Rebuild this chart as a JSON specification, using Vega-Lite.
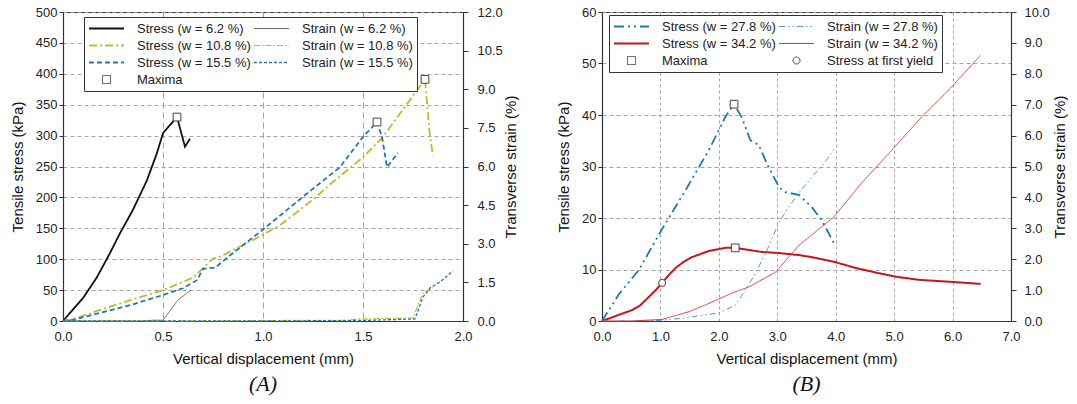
{
  "$schema": "https://vega.github.io/schema/vega-lite/v6.json",
  "background": "white",
  "padding": {"left": 9, "top": 5, "right": 0, "bottom": 0},
  "spacing": 37,
  "config": {
    "font": "Liberation Sans",
    "view": {"stroke": "#333", "strokeWidth": 1},
    "axis": {"labelFont": "Liberation Sans", "labelFontSize": 13, "labelColor": "#222", "titleFont": "Liberation Sans", "titleFontSize": 15, "titleFontWeight": "normal", "titleColor": "#111", "domainColor": "#333", "domainWidth": 1.2, "tickColor": "#333", "gridColor": "#9a9a9a", "gridWidth": 0.9, "labelFlush": false},
    "legend": {"labelFont": "Liberation Sans", "labelFontSize": 13, "labelColor": "#222"}
  },
  "datasets": {
    "A": [
      {"s": "Stress (w = 6.2 %)", "x": 0, "v": 0}, {"s": "Stress (w = 6.2 %)", "x": 0.035, "v": 13}, {"s": "Stress (w = 6.2 %)", "x": 0.1, "v": 37}, {"s": "Stress (w = 6.2 %)", "x": 0.17, "v": 71}, {"s": "Stress (w = 6.2 %)", "x": 0.235, "v": 110}, {"s": "Stress (w = 6.2 %)", "x": 0.285, "v": 142}, {"s": "Stress (w = 6.2 %)", "x": 0.35, "v": 180}, {"s": "Stress (w = 6.2 %)", "x": 0.42, "v": 228}, {"s": "Stress (w = 6.2 %)", "x": 0.47, "v": 272}, {"s": "Stress (w = 6.2 %)", "x": 0.5, "v": 304}, {"s": "Stress (w = 6.2 %)", "x": 0.57, "v": 330}, {"s": "Stress (w = 6.2 %)", "x": 0.61, "v": 282}, {"s": "Stress (w = 6.2 %)", "x": 0.635, "v": 295},
      {"s": "Strain (w = 6.2 %)", "x": 0, "v": 0}, {"s": "Strain (w = 6.2 %)", "x": 0.4, "v": 0.0}, {"s": "Strain (w = 6.2 %)", "x": 0.45, "v": 0.03}, {"s": "Strain (w = 6.2 %)", "x": 0.5, "v": 0.03}, {"s": "Strain (w = 6.2 %)", "x": 0.55, "v": 0.55}, {"s": "Strain (w = 6.2 %)", "x": 0.575, "v": 0.82}, {"s": "Strain (w = 6.2 %)", "x": 0.64, "v": 1.2},
      {"s": "Stress (w = 10.8 %)", "x": 0, "v": 0}, {"s": "Stress (w = 10.8 %)", "x": 0.05, "v": 3}, {"s": "Stress (w = 10.8 %)", "x": 0.185, "v": 18}, {"s": "Stress (w = 10.8 %)", "x": 0.35, "v": 35}, {"s": "Stress (w = 10.8 %)", "x": 0.5, "v": 50}, {"s": "Stress (w = 10.8 %)", "x": 0.65, "v": 70}, {"s": "Stress (w = 10.8 %)", "x": 0.75, "v": 101}, {"s": "Stress (w = 10.8 %)", "x": 0.785, "v": 104}, {"s": "Stress (w = 10.8 %)", "x": 0.87, "v": 118}, {"s": "Stress (w = 10.8 %)", "x": 0.95, "v": 131}, {"s": "Stress (w = 10.8 %)", "x": 1.04, "v": 147}, {"s": "Stress (w = 10.8 %)", "x": 1.085, "v": 155}, {"s": "Stress (w = 10.8 %)", "x": 1.26, "v": 199}, {"s": "Stress (w = 10.8 %)", "x": 1.32, "v": 217}, {"s": "Stress (w = 10.8 %)", "x": 1.5, "v": 265}, {"s": "Stress (w = 10.8 %)", "x": 1.595, "v": 296}, {"s": "Stress (w = 10.8 %)", "x": 1.81, "v": 391}, {"s": "Stress (w = 10.8 %)", "x": 1.835, "v": 298}, {"s": "Stress (w = 10.8 %)", "x": 1.85, "v": 268},
      {"s": "Strain (w = 10.8 %)", "x": 0, "v": 0}, {"s": "Strain (w = 10.8 %)", "x": 0.5, "v": 0.0}, {"s": "Strain (w = 10.8 %)", "x": 1.0, "v": 0.02}, {"s": "Strain (w = 10.8 %)", "x": 1.4, "v": 0.03}, {"s": "Strain (w = 10.8 %)", "x": 1.5, "v": 0.08}, {"s": "Strain (w = 10.8 %)", "x": 1.65, "v": 0.1}, {"s": "Strain (w = 10.8 %)", "x": 1.75, "v": 0.12}, {"s": "Strain (w = 10.8 %)", "x": 1.8, "v": 1.08}, {"s": "Strain (w = 10.8 %)", "x": 1.85, "v": 1.3},
      {"s": "Stress (w = 15.5 %)", "x": 0, "v": 0}, {"s": "Stress (w = 15.5 %)", "x": 0.05, "v": 2}, {"s": "Stress (w = 15.5 %)", "x": 0.185, "v": 13}, {"s": "Stress (w = 15.5 %)", "x": 0.35, "v": 27}, {"s": "Stress (w = 15.5 %)", "x": 0.5, "v": 42}, {"s": "Stress (w = 15.5 %)", "x": 0.6, "v": 53}, {"s": "Stress (w = 15.5 %)", "x": 0.67, "v": 66}, {"s": "Stress (w = 15.5 %)", "x": 0.7, "v": 84}, {"s": "Stress (w = 15.5 %)", "x": 0.73, "v": 86}, {"s": "Stress (w = 15.5 %)", "x": 0.76, "v": 86}, {"s": "Stress (w = 15.5 %)", "x": 0.85, "v": 110}, {"s": "Stress (w = 15.5 %)", "x": 1.0, "v": 148}, {"s": "Stress (w = 15.5 %)", "x": 1.2, "v": 201}, {"s": "Stress (w = 15.5 %)", "x": 1.385, "v": 249}, {"s": "Stress (w = 15.5 %)", "x": 1.5, "v": 298}, {"s": "Stress (w = 15.5 %)", "x": 1.57, "v": 322}, {"s": "Stress (w = 15.5 %)", "x": 1.595, "v": 298}, {"s": "Stress (w = 15.5 %)", "x": 1.62, "v": 249}, {"s": "Stress (w = 15.5 %)", "x": 1.675, "v": 272},
      {"s": "Strain (w = 15.5 %)", "x": 0, "v": 0}, {"s": "Strain (w = 15.5 %)", "x": 0.5, "v": 0.0}, {"s": "Strain (w = 15.5 %)", "x": 1.0, "v": 0.0}, {"s": "Strain (w = 15.5 %)", "x": 1.5, "v": 0.02}, {"s": "Strain (w = 15.5 %)", "x": 1.76, "v": 0.08}, {"s": "Strain (w = 15.5 %)", "x": 1.8, "v": 0.93}, {"s": "Strain (w = 15.5 %)", "x": 1.835, "v": 1.28}, {"s": "Strain (w = 15.5 %)", "x": 1.885, "v": 1.52}, {"s": "Strain (w = 15.5 %)", "x": 1.95, "v": 1.94},
      {"s": "max", "x": 0.57, "v": 330}, {"s": "max", "x": 1.57, "v": 322}, {"s": "max", "x": 1.81, "v": 391}
    ],
    "B": [
      {"s": "Stress (w = 27.8 %)", "x": 0, "v": 0}, {"s": "Stress (w = 27.8 %)", "x": 0.29, "v": 5.2}, {"s": "Stress (w = 27.8 %)", "x": 0.63, "v": 9.9}, {"s": "Stress (w = 27.8 %)", "x": 1.0, "v": 17.3}, {"s": "Stress (w = 27.8 %)", "x": 1.43, "v": 25.4}, {"s": "Stress (w = 27.8 %)", "x": 1.83, "v": 33.2}, {"s": "Stress (w = 27.8 %)", "x": 2.11, "v": 39.6}, {"s": "Stress (w = 27.8 %)", "x": 2.26, "v": 42.1}, {"s": "Stress (w = 27.8 %)", "x": 2.39, "v": 39.6}, {"s": "Stress (w = 27.8 %)", "x": 2.54, "v": 35.1}, {"s": "Stress (w = 27.8 %)", "x": 2.68, "v": 34.2}, {"s": "Stress (w = 27.8 %)", "x": 2.85, "v": 29.9}, {"s": "Stress (w = 27.8 %)", "x": 3.03, "v": 26}, {"s": "Stress (w = 27.8 %)", "x": 3.14, "v": 25}, {"s": "Stress (w = 27.8 %)", "x": 3.37, "v": 24.5}, {"s": "Stress (w = 27.8 %)", "x": 3.59, "v": 22.1}, {"s": "Stress (w = 27.8 %)", "x": 3.76, "v": 19.6}, {"s": "Stress (w = 27.8 %)", "x": 3.97, "v": 15.1},
      {"s": "Strain (w = 27.8 %)", "x": 0, "v": 0}, {"s": "Strain (w = 27.8 %)", "x": 0.5, "v": 0.0}, {"s": "Strain (w = 27.8 %)", "x": 1.0, "v": 0.02}, {"s": "Strain (w = 27.8 %)", "x": 1.32, "v": 0.08}, {"s": "Strain (w = 27.8 %)", "x": 1.7, "v": 0.18}, {"s": "Strain (w = 27.8 %)", "x": 2.0, "v": 0.26}, {"s": "Strain (w = 27.8 %)", "x": 2.29, "v": 0.52}, {"s": "Strain (w = 27.8 %)", "x": 2.45, "v": 1.0}, {"s": "Strain (w = 27.8 %)", "x": 2.63, "v": 1.55}, {"s": "Strain (w = 27.8 %)", "x": 2.85, "v": 2.4}, {"s": "Strain (w = 27.8 %)", "x": 3.03, "v": 3.2}, {"s": "Strain (w = 27.8 %)", "x": 3.2, "v": 3.7}, {"s": "Strain (w = 27.8 %)", "x": 3.37, "v": 4.15}, {"s": "Strain (w = 27.8 %)", "x": 3.59, "v": 4.66}, {"s": "Strain (w = 27.8 %)", "x": 3.8, "v": 5.1}, {"s": "Strain (w = 27.8 %)", "x": 3.97, "v": 5.55},
      {"s": "Stress (w = 34.2 %)", "x": 0, "v": 0}, {"s": "Stress (w = 34.2 %)", "x": 0.15, "v": 0.6}, {"s": "Stress (w = 34.2 %)", "x": 0.29, "v": 1.2}, {"s": "Stress (w = 34.2 %)", "x": 0.51, "v": 2.1}, {"s": "Stress (w = 34.2 %)", "x": 0.65, "v": 3.0}, {"s": "Stress (w = 34.2 %)", "x": 0.75, "v": 4.1}, {"s": "Stress (w = 34.2 %)", "x": 0.92, "v": 6}, {"s": "Stress (w = 34.2 %)", "x": 1.03, "v": 7.4}, {"s": "Stress (w = 34.2 %)", "x": 1.15, "v": 9.0}, {"s": "Stress (w = 34.2 %)", "x": 1.26, "v": 10.3}, {"s": "Stress (w = 34.2 %)", "x": 1.4, "v": 11.5}, {"s": "Stress (w = 34.2 %)", "x": 1.54, "v": 12.4}, {"s": "Stress (w = 34.2 %)", "x": 1.83, "v": 13.6}, {"s": "Stress (w = 34.2 %)", "x": 2.11, "v": 14.2}, {"s": "Stress (w = 34.2 %)", "x": 2.28, "v": 14.2}, {"s": "Stress (w = 34.2 %)", "x": 2.51, "v": 13.8}, {"s": "Stress (w = 34.2 %)", "x": 2.74, "v": 13.4}, {"s": "Stress (w = 34.2 %)", "x": 3.03, "v": 13.2}, {"s": "Stress (w = 34.2 %)", "x": 3.37, "v": 12.8}, {"s": "Stress (w = 34.2 %)", "x": 3.59, "v": 12.4}, {"s": "Stress (w = 34.2 %)", "x": 3.97, "v": 11.5}, {"s": "Stress (w = 34.2 %)", "x": 4.34, "v": 10.3}, {"s": "Stress (w = 34.2 %)", "x": 4.73, "v": 9.3}, {"s": "Stress (w = 34.2 %)", "x": 5.03, "v": 8.6}, {"s": "Stress (w = 34.2 %)", "x": 5.42, "v": 8.0}, {"s": "Stress (w = 34.2 %)", "x": 5.98, "v": 7.6}, {"s": "Stress (w = 34.2 %)", "x": 6.48, "v": 7.2},
      {"s": "Strain (w = 34.2 %)", "x": 0, "v": 0}, {"s": "Strain (w = 34.2 %)", "x": 0.5, "v": 0.0}, {"s": "Strain (w = 34.2 %)", "x": 1.03, "v": 0.05}, {"s": "Strain (w = 34.2 %)", "x": 1.49, "v": 0.3}, {"s": "Strain (w = 34.2 %)", "x": 1.83, "v": 0.57}, {"s": "Strain (w = 34.2 %)", "x": 2.22, "v": 0.9}, {"s": "Strain (w = 34.2 %)", "x": 2.51, "v": 1.1}, {"s": "Strain (w = 34.2 %)", "x": 2.97, "v": 1.58}, {"s": "Strain (w = 34.2 %)", "x": 3.37, "v": 2.45}, {"s": "Strain (w = 34.2 %)", "x": 3.97, "v": 3.37}, {"s": "Strain (w = 34.2 %)", "x": 4.44, "v": 4.46}, {"s": "Strain (w = 34.2 %)", "x": 4.96, "v": 5.53}, {"s": "Strain (w = 34.2 %)", "x": 5.47, "v": 6.6}, {"s": "Strain (w = 34.2 %)", "x": 5.98, "v": 7.57}, {"s": "Strain (w = 34.2 %)", "x": 6.48, "v": 8.6},
      {"s": "max", "x": 2.26, "v": 42.1}, {"s": "max", "x": 2.28, "v": 14.2},
      {"s": "yield", "x": 1.03, "v": 7.4}
    ]
  },
  "resolve": {
    "scale": {"color": "independent", "strokeDash": "independent", "strokeWidth": "independent"},
    "legend": {"color": "independent", "strokeDash": "independent", "strokeWidth": "independent"}
  },
  "hconcat": [
    {
      "width": 400,
      "height": 309,
      "data": {"name": "A"},
      "title": {"text": "(A)", "orient": "bottom", "anchor": "middle", "frame": "group", "font": "Liberation Serif", "fontStyle": "italic", "fontWeight": "normal", "fontSize": 22, "color": "#111", "offset": 8},
      "layer": [
        {
          "transform": [{"filter": "indexof(datum.s, 'Stress (') === 0"}],
          "mark": {"type": "line", "strokeCap": "butt"},
          "encoding": {
            "x": {"field": "x", "type": "quantitative", "scale": {"domain": [0, 2]}, "axis": {"title": "Vertical displacement (mm)", "values": [0, 0.5, 1, 1.5, 2], "format": ".1f", "grid": true, "gridDash": [6, 4], "ticks": false, "labelPadding": 9, "titlePadding": 8}},
            "y": {"field": "v", "type": "quantitative", "scale": {"domain": [0, 500]}, "axis": {"orient": "left", "title": "Tensile stress (kPa)", "values": [0, 50, 100, 150, 200, 250, 300, 350, 400, 450, 500], "format": "d", "grid": true, "gridDash": [4, 3], "tickSize": 4, "labelPadding": 2, "titlePadding": 10}},
            "color": {"field": "s", "type": "nominal",
              "scale": {"domain": ["Stress (w = 6.2 %)", "Stress (w = 10.8 %)", "Stress (w = 15.5 %)", "Maxima", "Strain (w = 6.2 %)", "Strain (w = 10.8 %)", "Strain (w = 15.5 %)"], "range": ["#111111", "#bcbd22", "#1f77b4", "#444444", "#444444", "#bcbd22", "#1f77b4"]},
              "legend": {"title": null, "orient": "none", "legendX": 21, "legendY": 5, "columns": 2, "columnPadding": 2, "rowPadding": 2, "clipHeight": 15, "symbolType": "stroke", "symbolSize": 1225, "labelOffset": 12, "padding": 4, "strokeColor": "#333", "fillColor": "white",
                "encode": {"symbols": {"update": {"shape": {"signal": "datum.value === 'Maxima' ? 'M-0.23,-0.23H0.23V0.23H-0.23Z' : 'stroke'"}, "fill": {"signal": "datum.value === 'Maxima' ? 'white' : 'transparent'"}}}}}},
            "strokeDash": {"field": "s", "type": "nominal", "scale": {"domain": ["Stress (w = 6.2 %)", "Stress (w = 10.8 %)", "Stress (w = 15.5 %)", "Maxima", "Strain (w = 6.2 %)", "Strain (w = 10.8 %)", "Strain (w = 15.5 %)"], "range": [[1, 0], [8, 3, 2, 3], [5, 3], [1, 0], [1, 0], [6, 2, 1.5, 2], [3, 2]]}},
            "strokeWidth": {"field": "s", "type": "nominal", "scale": {"type": "ordinal", "domain": ["Stress (w = 6.2 %)", "Stress (w = 10.8 %)", "Stress (w = 15.5 %)", "Maxima", "Strain (w = 6.2 %)", "Strain (w = 10.8 %)", "Strain (w = 15.5 %)"], "range": [1.8, 1.8, 1.8, 1, 0.8, 1.1, 1.3]}}
          }
        },
        {
          "transform": [{"filter": "indexof(datum.s, 'Strain (') === 0"}],
          "mark": {"type": "line", "strokeCap": "butt"},
          "encoding": {
            "x": {"field": "x", "type": "quantitative", "scale": {"domain": [0, 2]}},
            "y": {"field": "v", "type": "quantitative", "scale": {"domain": [0, 12]}, "axis": {"orient": "right", "title": "Transverse strain (%)", "titleAngle": 270, "values": [0, 1.5, 3, 4.5, 6, 7.5, 9, 10.5, 12], "format": ".1f", "grid": false, "tickSize": 5, "labelPadding": 9, "titlePadding": 16}},
            "color": {"field": "s", "type": "nominal", "scale": {"domain": ["Stress (w = 6.2 %)", "Stress (w = 10.8 %)", "Stress (w = 15.5 %)", "Maxima", "Strain (w = 6.2 %)", "Strain (w = 10.8 %)", "Strain (w = 15.5 %)"], "range": ["#111111", "#bcbd22", "#1f77b4", "#444444", "#444444", "#bcbd22", "#1f77b4"]}},
            "strokeDash": {"field": "s", "type": "nominal", "scale": {"domain": ["Stress (w = 6.2 %)", "Stress (w = 10.8 %)", "Stress (w = 15.5 %)", "Maxima", "Strain (w = 6.2 %)", "Strain (w = 10.8 %)", "Strain (w = 15.5 %)"], "range": [[1, 0], [8, 3, 2, 3], [5, 3], [1, 0], [1, 0], [6, 2, 1.5, 2], [3, 2]]}},
            "strokeWidth": {"field": "s", "type": "nominal", "scale": {"type": "ordinal", "domain": ["Stress (w = 6.2 %)", "Stress (w = 10.8 %)", "Stress (w = 15.5 %)", "Maxima", "Strain (w = 6.2 %)", "Strain (w = 10.8 %)", "Strain (w = 15.5 %)"], "range": [1.8, 1.8, 1.8, 1, 0.8, 1.1, 1.3]}}
          }
        },
        {
          "transform": [{"filter": "datum.s === 'max'"}],
          "mark": {"type": "point", "shape": "square", "size": 60, "filled": true, "fill": "white", "stroke": "#444", "strokeWidth": 1, "opacity": 1},
          "encoding": {
            "x": {"field": "x", "type": "quantitative", "scale": {"domain": [0, 2]}},
            "y": {"field": "v", "type": "quantitative", "scale": {"domain": [0, 500]}, "axis": null}
          }
        }
      ],
      "resolve": {"scale": {"y": "independent"}}
    },
    {
      "width": 409,
      "height": 309,
      "data": {"name": "B"},
      "title": {"text": "(B)", "orient": "bottom", "anchor": "middle", "frame": "group", "font": "Liberation Serif", "fontStyle": "italic", "fontWeight": "normal", "fontSize": 22, "color": "#111", "offset": 8},
      "layer": [
        {
          "transform": [{"filter": "indexof(datum.s, 'Stress (') === 0"}],
          "mark": {"type": "line", "strokeCap": "butt"},
          "encoding": {
            "x": {"field": "x", "type": "quantitative", "scale": {"domain": [0, 7]}, "axis": {"title": "Vertical displacement (mm)", "values": [0, 1, 2, 3, 4, 5, 6, 7], "format": ".1f", "grid": true, "gridDash": [3, 3], "ticks": false, "labelPadding": 9, "titlePadding": 8}},
            "y": {"field": "v", "type": "quantitative", "scale": {"domain": [0, 60]}, "axis": {"orient": "left", "title": "Tensile stress (kPa)", "values": [0, 10, 20, 30, 40, 50, 60], "format": "d", "grid": true, "gridDash": [4, 3], "tickSize": 4, "labelPadding": 2, "titlePadding": 10}},
            "color": {"field": "s", "type": "nominal",
              "scale": {"domain": ["Stress (w = 27.8 %)", "Stress (w = 34.2 %)", "Maxima", "Strain (w = 27.8 %)", "Strain (w = 34.2 %)", "Stress at first yield"], "range": ["#1f77b4", "#c4161c", "#444444", "#3d8ac6", "#d63a3a", "#444444"]},
              "legend": {"title": null, "orient": "none", "legendX": 7, "legendY": 3, "columns": 2, "columnPadding": 2, "rowPadding": 2, "clipHeight": 15, "symbolType": "stroke", "symbolSize": 1225, "labelOffset": 12, "padding": 4, "strokeColor": "#333", "fillColor": "white",
                "encode": {"symbols": {"update": {"shape": {"signal": "datum.value === 'Maxima' ? 'M-0.23,-0.23H0.23V0.23H-0.23Z' : datum.value === 'Stress at first yield' ? 'M0.2,0A0.2,0.2 0 1,1 -0.2,0A0.2,0.2 0 1,1 0.2,0Z' : 'stroke'"}, "fill": {"signal": "(datum.value === 'Maxima' || datum.value === 'Stress at first yield') ? 'white' : 'transparent'"}}}}}},
            "strokeDash": {"field": "s", "type": "nominal", "scale": {"domain": ["Stress (w = 27.8 %)", "Stress (w = 34.2 %)", "Maxima", "Strain (w = 27.8 %)", "Strain (w = 34.2 %)", "Stress at first yield"], "range": [[10, 4, 2, 4, 2, 4], [1, 0], [1, 0], [6, 3, 1.5, 3, 1.5, 3], [1, 0], [1, 0]]}},
            "strokeWidth": {"field": "s", "type": "nominal", "scale": {"type": "ordinal", "domain": ["Stress (w = 27.8 %)", "Stress (w = 34.2 %)", "Maxima", "Strain (w = 27.8 %)", "Strain (w = 34.2 %)", "Stress at first yield"], "range": [1.8, 2.0, 1, 0.9, 1.0, 1]}}
          }
        },
        {
          "transform": [{"filter": "indexof(datum.s, 'Strain (') === 0"}],
          "mark": {"type": "line", "strokeCap": "butt"},
          "encoding": {
            "x": {"field": "x", "type": "quantitative", "scale": {"domain": [0, 7]}},
            "y": {"field": "v", "type": "quantitative", "scale": {"domain": [0, 10]}, "axis": {"orient": "right", "title": "Transverse strain (%)", "titleAngle": 270, "values": [0, 1, 2, 3, 4, 5, 6, 7, 8, 9, 10], "format": ".1f", "grid": false, "tickSize": 5, "labelPadding": 8, "titlePadding": 18}},
            "color": {"field": "s", "type": "nominal", "scale": {"domain": ["Stress (w = 27.8 %)", "Stress (w = 34.2 %)", "Maxima", "Strain (w = 27.8 %)", "Strain (w = 34.2 %)", "Stress at first yield"], "range": ["#1f77b4", "#c4161c", "#444444", "#3d8ac6", "#d63a3a", "#444444"]}},
            "strokeDash": {"field": "s", "type": "nominal", "scale": {"domain": ["Stress (w = 27.8 %)", "Stress (w = 34.2 %)", "Maxima", "Strain (w = 27.8 %)", "Strain (w = 34.2 %)", "Stress at first yield"], "range": [[10, 4, 2, 4, 2, 4], [1, 0], [1, 0], [6, 3, 1.5, 3, 1.5, 3], [1, 0], [1, 0]]}},
            "strokeWidth": {"field": "s", "type": "nominal", "scale": {"type": "ordinal", "domain": ["Stress (w = 27.8 %)", "Stress (w = 34.2 %)", "Maxima", "Strain (w = 27.8 %)", "Strain (w = 34.2 %)", "Stress at first yield"], "range": [1.8, 2.0, 1, 0.9, 1.0, 1]}}
          }
        },
        {
          "transform": [{"filter": "datum.s === 'max'"}],
          "mark": {"type": "point", "shape": "square", "size": 60, "filled": true, "fill": "white", "stroke": "#444", "strokeWidth": 1, "opacity": 1},
          "encoding": {
            "x": {"field": "x", "type": "quantitative", "scale": {"domain": [0, 7]}},
            "y": {"field": "v", "type": "quantitative", "scale": {"domain": [0, 60]}, "axis": null}
          }
        },
        {
          "transform": [{"filter": "datum.s === 'yield'"}],
          "mark": {"type": "point", "shape": "circle", "size": 50, "filled": true, "fill": "white", "stroke": "#444", "strokeWidth": 1, "opacity": 1},
          "encoding": {
            "x": {"field": "x", "type": "quantitative", "scale": {"domain": [0, 7]}},
            "y": {"field": "v", "type": "quantitative", "scale": {"domain": [0, 60]}, "axis": null}
          }
        }
      ],
      "resolve": {"scale": {"y": "independent"}}
    }
  ]
}
